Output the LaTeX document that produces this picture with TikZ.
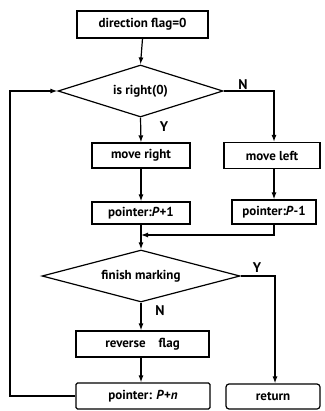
\documentclass[tikz,border=0pt]{standalone}
\usepackage{fontspec}
\setmainfont{PT Sans}
\usetikzlibrary{shapes.geometric,arrows.meta}
\begin{document}
\begin{tikzpicture}[x=1pt,y=1pt,
  font=\fontsize{13}{14}\selectfont\bfseries,
  box/.style={draw,line width=1.2pt,inner sep=0pt,minimum width=#1},
  dia/.style={draw,diamond,line width=1.2pt,inner sep=0pt,aspect=3.2},
  arr/.style={line width=1.2pt,-{Latex[length=7pt,width=5pt]}},
  lbl/.style={font=\fontsize{14}{15}\selectfont\bfseries}]
\useasboundingbox (0,0) rectangle (324,-411);
\node[box=131pt,minimum height=27pt,line width=1.6pt] (top) at (142.5,-24.5) {direction flag=0};
\node[dia,minimum width=165pt,minimum height=52pt] (d1) at (140.5,-91) {is right(0)};
\node[box=98pt,minimum height=25pt] (mr) at (141,-155.5) {move right};
\node[box=98pt,minimum height=22pt] (p1) at (141,-213) {pointer:\textit{P}+1};
\node[box=96pt,minimum height=26pt] (ml) at (272,-155.5) {move left};
\node[box=84pt,minimum height=24pt] (pm) at (274,-212) {pointer:\textit{P}-1};
\node[dia,minimum width=198pt,minimum height=52pt] (d2) at (141,-276) {finish marking};
\node[box=133pt,minimum height=26pt] (rf) at (142.5,-344) {reverse\quad flag};
\node[box=134pt,minimum height=26pt,rounded corners=1.5pt] (pn) at (143,-396) {pointer: \textit{P}+\textit{n}};
\node[box=94pt,minimum height=25pt,rounded corners=3pt] (ret) at (273,-396.5) {return};
\coordinate (c1) at (274,-91);
\coordinate (m1) at (274,-235);
\coordinate (m2) at (141,-235);
\coordinate (c2) at (275,-276);
\coordinate (l1) at (10,-396);
\coordinate (l2) at (10,-91);
\draw[arr] (top.south) -- (d1.north);
\draw[arr] (d1.south) -- (mr.north);
\draw[arr] (mr.south) -- (p1.north);
\draw[arr] (d1.east) -- (c1) -- (ml.north -| c1);
\draw[arr] (ml.south -| c1) -- (pm.north -| c1);
\draw[arr] (pm.south -| c1) -- (m1) -- (m2);
\draw[arr] (p1.south) -- (d2.north);
\draw[arr] (d2.south) -- (rf.north -| d2.south);
\draw[arr] (rf.south -| d2.south) -- (pn.north -| d2.south);
\draw[arr] (d2.east) -- (c2) -- (ret.north -| c2);
\draw[arr] (pn.west) -- (l1) -- (l2) -- (d1.west);
\node[lbl] (n1) at (243,-85) {N};
\node[lbl] (y1) at (164,-127) {Y};
\node[lbl] (y2) at (257,-268) {Y};
\node[lbl] (n2) at (160,-311) {N};
\end{tikzpicture}
\end{document}
